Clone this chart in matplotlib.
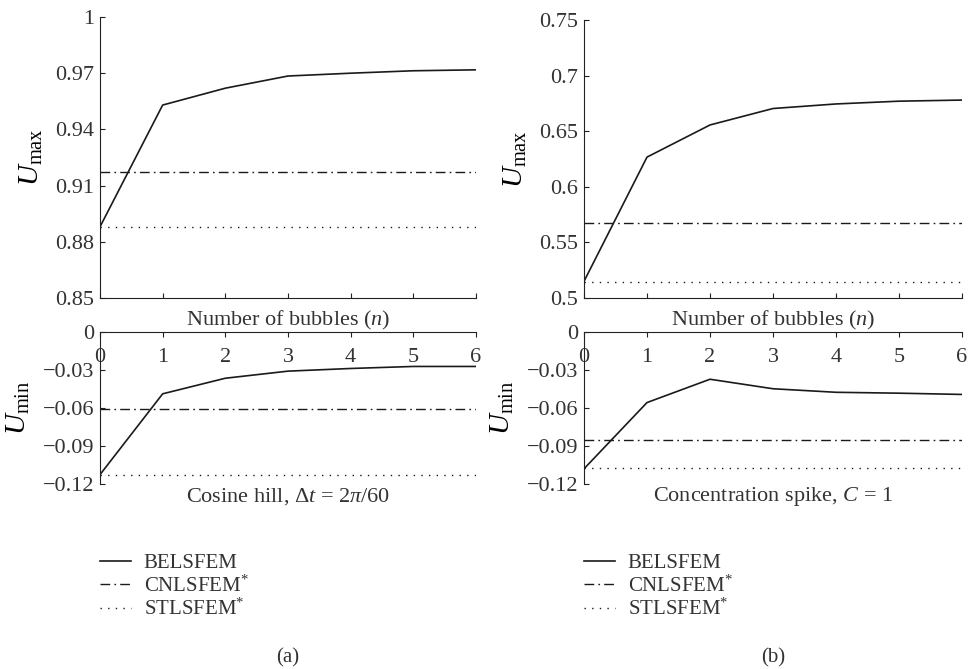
import matplotlib
matplotlib.use("Agg")
import matplotlib.pyplot as plt

plt.rcParams["font.family"] = ["Liberation Serif", "DejaVu Serif"]
plt.rcParams["mathtext.fontset"] = "custom"
plt.rcParams["mathtext.rm"] = "Liberation Serif"
plt.rcParams["mathtext.it"] = "Liberation Serif:italic"
plt.rcParams["text.color"] = "#333333"
plt.rcParams["axes.edgecolor"] = "#222222"
plt.rcParams["xtick.color"] = "#222222"
plt.rcParams["ytick.color"] = "#222222"
plt.rcParams["xtick.labelcolor"] = "#333333"
plt.rcParams["ytick.labelcolor"] = "#333333"

n = [0, 1, 2, 3, 4, 5, 6]

# (a) cosine hill
a_umax_bel = [0.888, 0.953, 0.962, 0.9685, 0.970, 0.9713, 0.9718]
a_umax_cn = 0.917
a_umax_st = 0.888
a_umin_bel = [-0.1126, -0.0488, -0.0365, -0.0309, -0.0288, -0.0272, -0.0272]
a_umin_cn = -0.0604
a_umin_st = -0.113

# (b) concentration spike
b_umax_bel = [0.515, 0.6267, 0.6556, 0.6704, 0.6745, 0.677, 0.678]
b_umax_cn = 0.5677
b_umax_st = 0.5144
b_umin_bel = [-0.108, -0.0557, -0.0373, -0.0448, -0.0476, -0.0483, -0.0493]
b_umin_cn = -0.085
b_umin_st = -0.107

a_top_ticks = [0.85, 0.88, 0.91, 0.94, 0.97, 1.0]
a_top_labels = ["0.85", "0.88", "0.91", "0.94", "0.97", "1"]
b_top_ticks = [0.5, 0.55, 0.6, 0.65, 0.7, 0.75]
b_top_labels = ["0.5", "0.55", "0.6", "0.65", "0.7", "0.75"]
bot_ticks = [0, -0.03, -0.06, -0.09, -0.12]
bot_labels = ["0", "\u22120.03", "\u22120.06", "\u22120.09", "\u22120.12"]

labels = ["BELSFEM", r"CNLSFEM$^{*}$", r"STLSFEM$^{*}$"]
captions = [r"Cosine hill, $\Delta t$ = 2$\pi$/60", r"Concentration spike, $C$ = 1"]

W, H = 968, 669
fig = plt.figure(figsize=(W / 100, H / 100), dpi=100)

dashdot = (0, (7, 3, 1.2, 3))
dotted = (0, (1, 4.5))
lc = "#1a1a1a"

cols = [
    (100, 476, a_umax_bel, a_umax_cn, a_umax_st, a_umin_bel, a_umin_cn, a_umin_st,
     (0.85, 1.0), a_top_ticks, a_top_labels, "(a)", captions[0], 17),
    (584, 962, b_umax_bel, b_umax_cn, b_umax_st, b_umin_bel, b_umin_cn, b_umin_st,
     (0.5, 0.75), b_top_ticks, b_top_labels, "(b)", captions[1], 20),
]

for (x0, x1, ub, uc, us, lb, lcn, ls, ylim, yt, ytl, tag, cap, ytop) in cols:
    w = x1 - x0
    # top panel: u_max
    ax = fig.add_axes([x0 / W, 1 - 298 / H, w / W, (298 - ytop) / H])
    ax.plot(n, ub, color=lc, lw=1.2, label=labels[0])
    ax.plot([0, 6], [uc, uc], color=lc, lw=1.0, linestyle=dashdot, label=labels[1])
    ax.plot([0, 6], [us, us], color=lc, lw=1.0, linestyle=dotted, label=labels[2])
    ax.set_xlim(0, 6)
    ax.set_ylim(*ylim)
    ax.set_yticks(yt)
    ax.set_yticklabels(ytl)
    ax.set_xticks(n)
    ax.set_xticklabels([])
    ax.spines["top"].set_visible(False)
    ax.spines["right"].set_visible(False)
    ax.tick_params(direction="in", length=3.5, labelsize=16, pad=4)
    ax.set_ylabel(r"$U_{\mathrm{max}}$", fontsize=21)
    ax.yaxis.set_label_coords(-55 / w, 0.5)
    ax.text(0.5, -0.08, r"Number of bubbles ($n$)", transform=ax.transAxes,
            ha="center", va="center", fontsize=16)

    # bottom panel: u_min
    bx = fig.add_axes([x0 / W, 1 - 484 / H, w / W, 152 / H])
    bx.plot(n, lb, color=lc, lw=1.2, label=labels[0])
    bx.plot([0, 6], [lcn, lcn], color=lc, lw=1.0, linestyle=dashdot, label=labels[1])
    bx.plot([0, 6], [ls, ls], color=lc, lw=1.0, linestyle=dotted, label=labels[2])
    bx.set_xlim(0, 6)
    bx.set_ylim(-0.12, 0)
    bx.set_yticks(bot_ticks)
    bx.set_yticklabels(bot_labels)
    bx.set_xticks(n)
    bx.set_xticklabels([str(v) for v in n])
    bx.spines["bottom"].set_visible(False)
    bx.spines["right"].set_visible(False)
    bx.tick_params(axis="x", top=True, bottom=False, labeltop=True, labelbottom=False,
                   direction="in", length=3.5, labelsize=16, pad=-25)
    bx.tick_params(axis="y", direction="in", length=3.5, labelsize=16, pad=4)
    bx.set_ylabel(r"$U_{\mathrm{min}}$", fontsize=21)
    bx.yaxis.set_label_coords(-68 / w, 0.5)
    bx.text(0.5, -0.085, cap, transform=bx.transAxes, ha="center", va="center", fontsize=16)

    bx.legend(loc="upper left", bbox_to_anchor=(0.0, -0.456), frameon=False,
              fontsize=15, handlelength=1.5, handletextpad=0.6, labelspacing=0.12,
              borderpad=0, borderaxespad=0)
    bx.text(0.5, -1.145, tag, transform=bx.transAxes, ha="center", va="center", fontsize=15)

fig.savefig("out.png", dpi=100)
